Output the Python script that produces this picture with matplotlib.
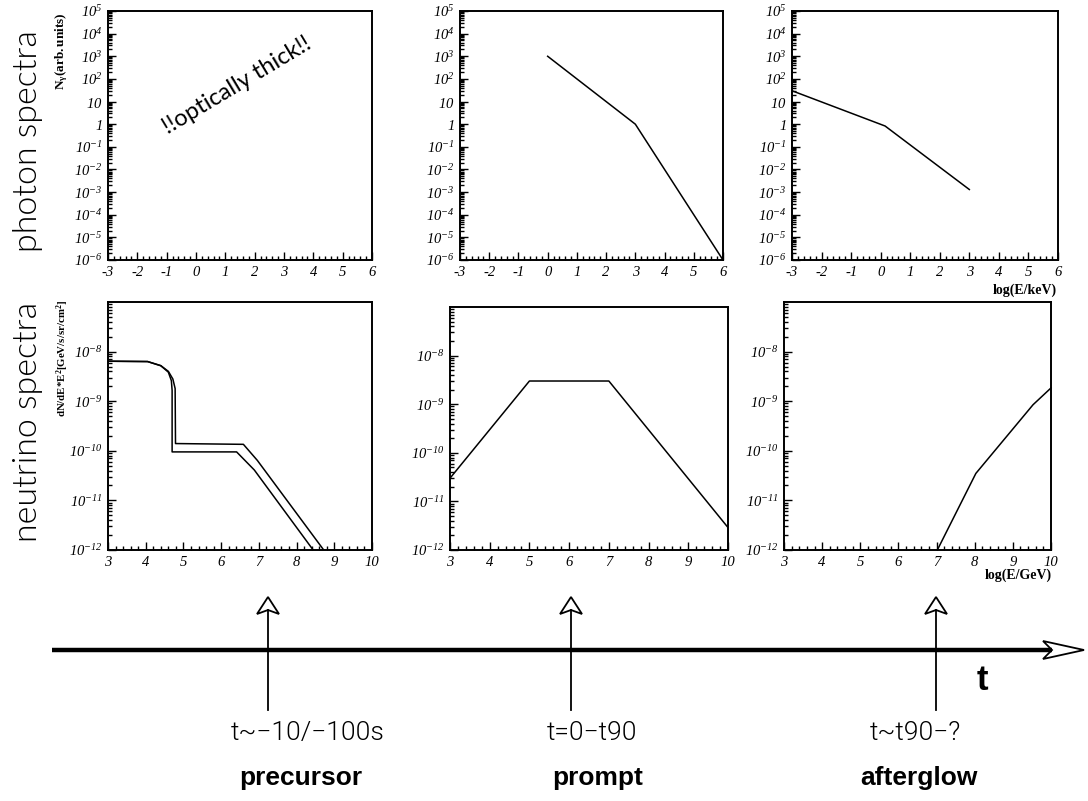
import numpy as np
import matplotlib
matplotlib.use("Agg")
import matplotlib.pyplot as plt
from matplotlib.ticker import LogLocator, MultipleLocator, FixedLocator, FuncFormatter, NullFormatter
from matplotlib.patches import Polygon

plt.rcParams['mathtext.fontset'] = 'custom'
plt.rcParams['mathtext.rm'] = 'Liberation Serif:italic'
plt.rcParams['mathtext.it'] = 'Liberation Serif:italic'
plt.rcParams['mathtext.bf'] = 'Liberation Serif:bold'

# photon spectra (log E/keV vs N_gamma)
ph_prompt_x = [0, 3, 6]
ph_prompt_y = [1e3, 1.0, 1e-6]
ph_after_x = [-3, 0.15, 3]
ph_after_y = [30, 0.83, 1.3e-3]

# neutrino spectra (log E/GeV vs E^2 dN/dE)
nu_pre1_x = [3.0, 4.05, 4.4, 4.6, 4.68, 4.70, 4.70, 6.41, 6.88, 8.44]
nu_pre1_y = [6.4e-9, 6.3e-9, 5.2e-9, 3.85e-9, 2.6e-9, 1.65e-9, 9.5e-11, 9.5e-11, 4.1e-11, 1e-12]
nu_pre2_x = [3.0, 4.05, 4.4, 4.6, 4.72, 4.78, 4.79, 6.59, 6.96, 8.72]
nu_pre2_y = [6.4e-9, 6.3e-9, 5.2e-9, 4.0e-9, 2.8e-9, 1.8e-9, 1.4e-10, 1.35e-10, 6.4e-11, 1e-12]
nu_prompt_x = [3, 5, 7, 10]
nu_prompt_y = [3e-11, 3e-9, 3e-9, 2.9e-12]
nu_after_x = [7.02, 8.03, 9.53, 10]
nu_after_y = [1e-12, 3.5e-11, 8.5e-10, 1.85e-9]

phases = ['precursor', 'prompt', 'afterglow']
phase_times = ['t~\u221210/\u2212100s', 't=0\u2212t90', 't~t90\u2212?']

W, H = 1088, 801
fig = plt.figure(figsize=(W / 100, H / 100), dpi=100)


def px_axes(l, t, r, b):
    return fig.add_axes([l / W, 1 - b / H, (r - l) / W, (b - t) / H])


def fmt_log(v, pos):
    e = int(round(np.log10(v)))
    if e == 0:
        return r'$1$'
    if e == 1:
        return r'$10$'
    return r'$10^{%d}$' % e


def style(ax, ylo, yhi, xlo, xhi, ylabels):
    ax.set_yscale('log')
    ax.set_xlim(xlo, xhi)
    ax.set_ylim(ylo, yhi)
    ax.xaxis.set_major_locator(MultipleLocator(1))
    ax.xaxis.set_minor_locator(MultipleLocator(0.2))
    ax.yaxis.set_major_locator(FixedLocator(ylabels))
    ax.yaxis.set_minor_locator(LogLocator(base=10, subs=np.arange(2, 10), numticks=30))
    ax.yaxis.set_major_formatter(FuncFormatter(fmt_log))
    ax.yaxis.set_minor_formatter(NullFormatter())
    ax.xaxis.set_major_formatter(FuncFormatter(lambda v, p: '%d' % v))
    ax.tick_params(which='both', direction='in', top=False, right=False, width=1)
    ax.tick_params(which='major', length=6, labelsize=10.5, pad=4)
    ax.tick_params(which='minor', length=3)
    for lab in ax.get_xticklabels():
        lab.set_family('Liberation Serif')
        lab.set_style('italic')
    for s in ax.spines.values():
        s.set_linewidth(1.4)


ph_ticks = [10.0 ** k for k in range(-6, 6)]
nu_ticks = [10.0 ** k for k in range(-12, -7)]

ax1 = px_axes(108, 11, 372, 260)
ax2 = px_axes(460, 11, 723, 260)
ax3 = px_axes(792, 11, 1058, 260)
ax4 = px_axes(108, 302, 372, 550)
ax5 = px_axes(450, 307, 728, 550)
ax6 = px_axes(784, 302, 1051, 550)

for ax in (ax1, ax2, ax3):
    style(ax, 1e-6, 1e5, -3, 6, ph_ticks)
for ax in (ax4, ax5, ax6):
    style(ax, 1e-12, 1e-7, 3, 10, nu_ticks)

lw = 1.1
ax2.plot(ph_prompt_x, ph_prompt_y, color='black', lw=lw)
ax3.plot(ph_after_x, ph_after_y, color='black', lw=lw)
ax4.plot(nu_pre1_x, nu_pre1_y, color='black', lw=lw)
ax4.plot(nu_pre2_x, nu_pre2_y, color='black', lw=lw)
ax5.plot(nu_prompt_x, nu_prompt_y, color='black', lw=lw)
ax6.plot(nu_after_x, nu_after_y, color='black', lw=lw, clip_on=False)

ax1.text(0.49, 0.70, '!!optically thick!!', transform=ax1.transAxes, rotation=31,
         ha='center', va='center', fontsize=17, family='Lato')

# axis titles
fig.text(62 / W, 1 - 12 / H, r'$\mathbf{N_{\gamma}(arb.units)}$', rotation=90,
         ha='center', va='top', fontsize=9.5)
fig.text(63 / W, 1 - 300 / H, r'$\mathbf{dN/dE{*}E^{2}[GeV/s/sr/cm^{2}]}$', rotation=90,
         ha='center', va='top', fontsize=7.8)
fig.text(1057 / W, 1 - 290 / H, 'log(E/keV)', ha='right', va='center', fontsize=10,
         family='Liberation Serif', weight='bold')
fig.text(1052 / W, 1 - 575 / H, 'log(E/GeV)', ha='right', va='center', fontsize=10,
         family='Liberation Serif', weight='bold')

# row labels
fig.text(28 / W, 1 - 141 / H, 'photon spectra', rotation=90, ha='center', va='center',
         fontsize=24.5, family='Lato', weight=300)
fig.text(28 / W, 1 - 422 / H, 'neutrino spectra', rotation=90, ha='center', va='center',
         fontsize=24.5, family='Lato', weight=300)

# time line
axt = fig.add_axes([0, 0, 1, 1], zorder=-1)
axt.set_xlim(0, W)
axt.set_ylim(H, 0)
axt.axis('off')
axt.plot([52, 1052], [650, 650], color='black', lw=3.2, solid_capstyle='butt')
axt.add_patch(Polygon([[1043, 641], [1084, 650], [1043, 659], [1052, 650]], closed=True,
                      fill=True, facecolor='white', edgecolor='black', lw=1.3))

arrow_x = [268, 571, 936]
time_x = [308, 592, 915]
name_x = [301, 598, 919]
for i, xa in enumerate(arrow_x):
    axt.plot([xa, xa], [710, 610], color='black', lw=1.3)
    axt.add_patch(Polygon([[xa - 11, 614], [xa, 597], [xa + 11, 614], [xa, 610]], closed=True,
                          facecolor='white', edgecolor='black', lw=1.3))
    axt.text(time_x[i], 733, phase_times[i], ha='center', va='center', fontsize=19,
             family='Roboto', weight=300)
    axt.text(name_x[i], 778, phases[i], ha='center', va='center',
             fontsize=19, family='Liberation Sans', weight='bold')

axt.text(982, 680, 't', ha='center', va='center', fontsize=25,
         family='Liberation Sans', weight='bold')

fig.savefig('out.png', dpi=100)
